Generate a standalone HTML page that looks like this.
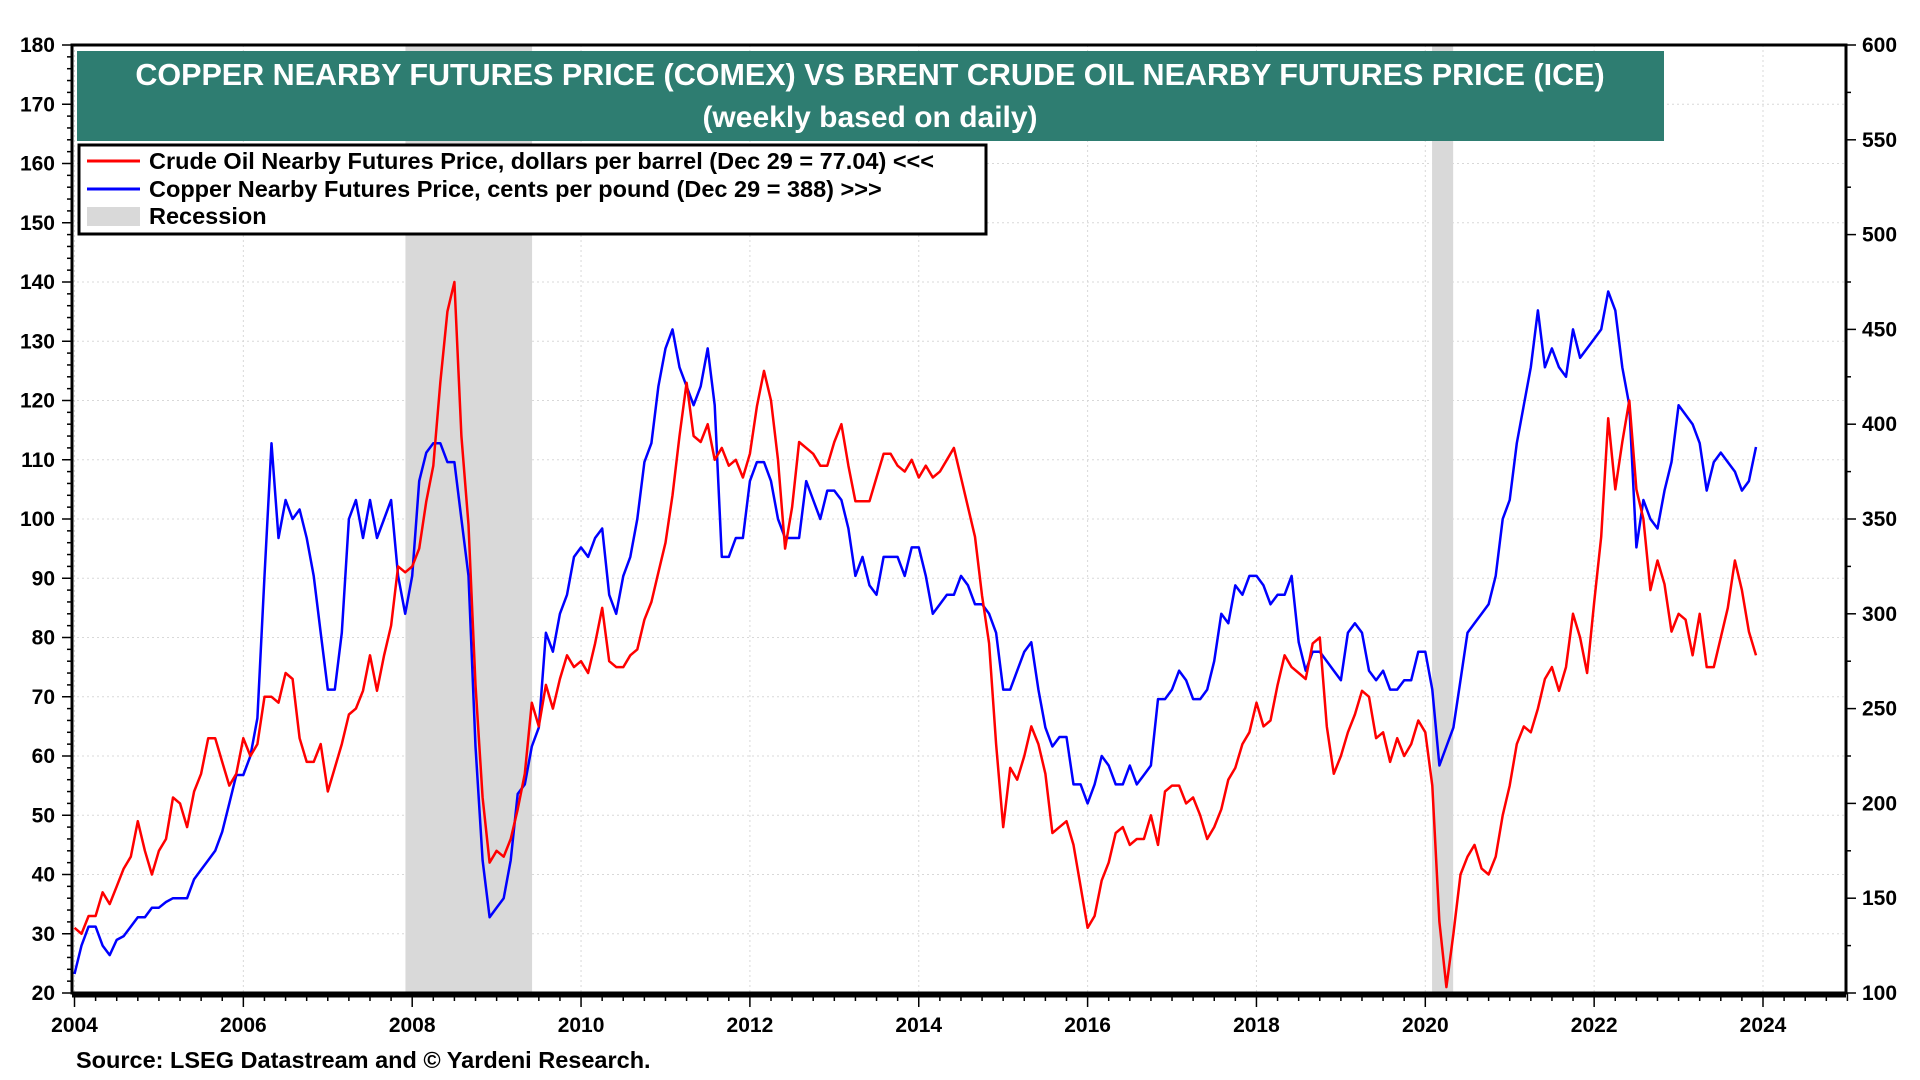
<!DOCTYPE html>
<html><head><meta charset="utf-8"><style>
html,body{margin:0;padding:0;background:#fff;}
svg{display:block;font-family:"Liberation Sans",Arial,sans-serif;font-weight:bold;}
</style></head><body>
<svg id="chart" width="1920" height="1080" viewBox="0 0 1920 1080">
<g id="grid"></g>
<g id="rec"></g>
<g id="series"></g>
<g id="axes"></g>
<rect x="77" y="51" width="1587" height="90" fill="#2e7d71"/>
<text x="870" y="85" text-anchor="middle" fill="#fff" font-size="30.5">COPPER NEARBY FUTURES PRICE (COMEX) VS BRENT CRUDE OIL NEARBY FUTURES PRICE (ICE)</text>
<text x="870" y="127" text-anchor="middle" fill="#fff" font-size="30">(weekly based on daily)</text>
<g>
<rect x="79" y="145" width="907" height="89" fill="#fff" stroke="#000" stroke-width="3"/>
<line x1="87" y1="161" x2="140" y2="161" stroke="#f00" stroke-width="3"/>
<text x="149" y="169" font-size="23.5">Crude Oil Nearby Futures Price, dollars per barrel (Dec 29 = 77.04) &lt;&lt;&lt;</text>
<line x1="87" y1="189" x2="140" y2="189" stroke="#00f" stroke-width="3"/>
<text x="149" y="197" font-size="23.5">Copper Nearby Futures Price, cents per pound (Dec 29 = 388) &gt;&gt;&gt;</text>
<rect x="87" y="207" width="53" height="19" fill="#d9d9d9"/>
<text x="149" y="224" font-size="23.5">Recession</text>
</g>
<text x="76" y="1068" font-size="23.5">Source: LSEG Datastream and © Yardeni Research.</text>
</svg>
<script>
const oil = [31,30,33,33,37,35,38,41,43,49,44,40, 44,46,53,52,48,54,57,63,63,59,55,57, 63,60,62,70,70,69,74,73,63,59,59,62, 54,58,62,67,68,71,77,71,77,82,92,91, 92,95,103,109,123,135,140,114,99,72,53,42, 44,43,46,51,57,69,65,72,68,73,77,75, 76,74,79,85,76,75,75,77,78,83,86,91, 96,104,114,123,114,113,116,110,112,109,110,107, 111,119,125,120,110,95,102,113,112,111,109,109, 113,116,109,103,103,103,107,111,111,109,108,110, 107,109,107,108,110,112,107,102,97,87,79,62, 48,58,56,60,65,62,57,47,48,49,45,38, 31,33,39,42,47,48,45,46,46,50,45,54, 55,55,52,53,50,46,48,51,56,58,62,64, 69,65,66,72,77,75,74,73,79,80,65,57, 60,64,67,71,70,63,64,59,63,60,62,66, 64,55,32,21,30,40,43,45,41,40,43,50, 55,62,65,64,68,73,75,71,75,84,80,74, 86,97,117,105,113,120,105,100,88,93,89,81, 84,83,77,84,75,75,80,85,93,88,81,77];
const copper = [110,125,135,135,125,120,128,130,135,140,140,145, 145,148,150,150,150,160,165,170,175,185,200,215, 215,225,245,320,390,340,360,350,355,340,320,290, 260,260,290,350,360,340,360,340,350,360,320,300, 320,370,385,390,390,380,380,350,320,230,170,140, 145,150,170,205,210,230,240,290,280,300,310,330, 335,330,340,345,310,300,320,330,350,380,390,420, 440,450,430,420,410,420,440,410,330,330,340,340, 370,380,380,370,350,340,340,340,370,360,350,365, 365,360,345,320,330,315,310,330,330,330,320,335, 335,320,300,305,310,310,320,315,305,305,300,290, 260,260,270,280,285,260,240,230,235,235,210,210, 200,210,225,220,210,210,220,210,215,220,255,255, 260,270,265,255,255,260,275,300,295,315,310,320, 320,315,305,310,310,320,285,270,280,280,275,270, 265,290,295,290,270,265,270,260,260,265,265,280, 280,260,220,230,240,265,290,295,300,305,320,350, 360,390,410,430,460,430,440,430,425,450,435,440, 445,450,470,460,430,410,335,360,350,345,365,380, 410,405,400,390,365,380,385,380,375,365,370,388];
const leftTicks = [20,30,40,50,60,70,80,90,100,110,120,130,140,150,160,170,180];
const rightTicks = [100,150,200,250,300,350,400,450,500,550,600];
const yearTicks = [2004,2006,2008,2010,2012,2014,2016,2018,2020,2022,2024];
const recessions = [[2007.92,2009.42],[2020.08,2020.33]];

const L=72,R=1846,T=45,B=993;
const x = yr => L + 2.5 + (yr-2004)*(1763-74.5)/20;
const yL = v => B - (v-20)/160*(B-T);
const yR = v => B - (v-100)/500*(B-T);
const NS="http://www.w3.org/2000/svg";
function mk(tag, parent){const e=document.createElementNS(NS,tag);document.getElementById(parent).appendChild(e);return e;}

for(const v of leftTicks){
  const g=mk('line','grid');
  
  
  g.setAttribute('x1',L);g.setAttribute('x2',R);g.setAttribute('y1',yL(v));g.setAttribute('y2',yL(v));
  g.setAttribute('stroke','#d8d8d8');g.setAttribute('stroke-dasharray','2,3');
  const t=mk('text','axes');
  
  
  t.setAttribute('x',L-17);t.setAttribute('y',yL(v)+7);t.setAttribute('text-anchor','end');t.setAttribute('font-size','21');
  t.textContent=v;
}
for(let v=20;v<=180;v+=2){
  const k=mk('line','axes');
  
  
  k.setAttribute('x1',L-(v%10===0?10:5));k.setAttribute('x2',L);k.setAttribute('y1',yL(v));k.setAttribute('y2',yL(v));k.setAttribute('stroke','#000');k.setAttribute('stroke-width','1.5');
}
for(let v=100;v<=600;v+=25){
  const k=mk('line','axes');
  
  
  k.setAttribute('x1',R);k.setAttribute('x2',R+(v%50===0?10:5));k.setAttribute('y1',yR(v));k.setAttribute('y2',yR(v));k.setAttribute('stroke','#000');k.setAttribute('stroke-width','1.5');
}
for(const v of rightTicks){
  const t=mk('text','axes');
  
  
  t.setAttribute('x',R+16);t.setAttribute('y',yR(v)+7);t.setAttribute('font-size','21');
  t.textContent=v;
}
for(const v of yearTicks){
  const g=mk('line','grid');
  
  
  g.setAttribute('x1',x(v));g.setAttribute('x2',x(v));g.setAttribute('y1',T);g.setAttribute('y2',B);
  g.setAttribute('stroke','#d8d8d8');g.setAttribute('stroke-dasharray','2,3');
  const t=mk('text','axes');
  
  
  t.setAttribute('x',x(v));t.setAttribute('y',1032);t.setAttribute('text-anchor','middle');t.setAttribute('font-size','21');
  t.textContent=v;
}
for(let q=0;q<=84;q++){
  const yr=2004+q/4;
  const k=mk('line','axes');
  
  
  k.setAttribute('x1',x(yr));k.setAttribute('x2',x(yr));k.setAttribute('y1',B);k.setAttribute('y2',B+(q%8===0?14:8));k.setAttribute('stroke','#000');k.setAttribute('stroke-width','1.5');
}
for(const r of recessions){
  const e=mk('rect','rec');
  
  
  e.setAttribute('x',x(r[0]));e.setAttribute('width',x(r[1])-x(r[0]));e.setAttribute('y',T);e.setAttribute('height',B-T);e.setAttribute('fill','#d9d9d9');
}
function line(arr, yf, color, name){
  const p=arr.map((v,i)=>x(2004+i/12).toFixed(1)+','+yf(v).toFixed(1)).join(' ');
  const e=mk('polyline','series');
  
  
  e.setAttribute('points',p);e.setAttribute('fill','none');e.setAttribute('stroke',color);e.setAttribute('stroke-width','2.5');e.setAttribute('stroke-linejoin','round');
}
line(copper,yR,'#0000ff','copper-line');
line(oil,yL,'#ff0000','oil-line');
const f=mk('rect','axes');


f.setAttribute('x',L);f.setAttribute('y',T);f.setAttribute('width',R-L);f.setAttribute('height',B-T);f.setAttribute('fill','none');f.setAttribute('stroke','#000');f.setAttribute('stroke-width','3');
const bb=mk('line','axes');


bb.setAttribute('x1',L);bb.setAttribute('x2',R);bb.setAttribute('y1',B+2);bb.setAttribute('y2',B+2);bb.setAttribute('stroke','#000');bb.setAttribute('stroke-width','5');
</script>
</body></html>
